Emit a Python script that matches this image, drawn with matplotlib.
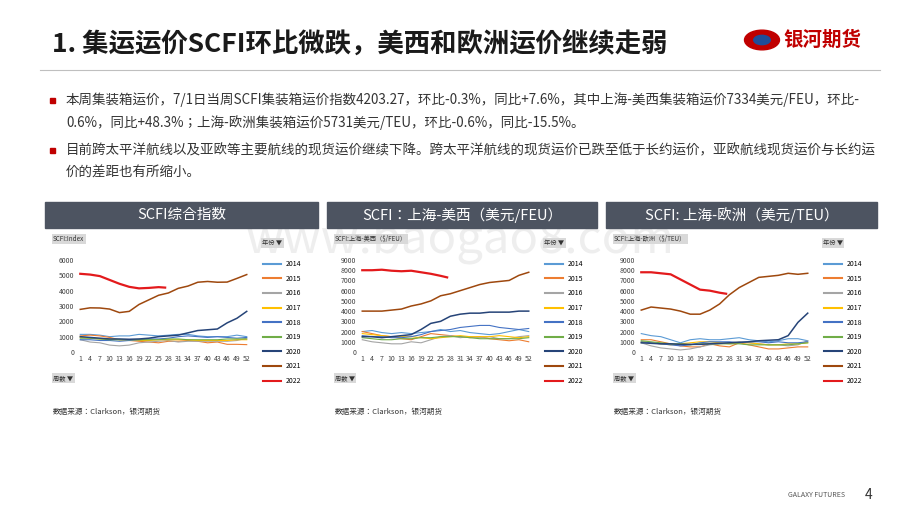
import matplotlib.pyplot as plt
from matplotlib import font_manager
from matplotlib.patches import Rectangle, Circle
from matplotlib.lines import Line2D

cjk = sorted({f.name for f in font_manager.fontManager.ttflist if 'Sans CJK' in f.name})
pref = [n for n in cjk if n.endswith('SC')] or cjk
plt.rcParams['font.family'] = [pref[0] if pref else 'Noto Sans CJK SC']

# 数据（按周采样）
weeks = [1, 4, 7, 10, 13, 16, 19, 22, 25, 28, 31, 34, 37, 40, 43, 46, 49, 52]
weeks_2022 = [1, 4, 7, 10, 13, 16, 19, 22, 25, 27]
years = ['2014', '2015', '2016', '2017', '2018', '2019', '2020', '2021', '2022']
colors = ['#5B9BD5', '#ED7D31', '#A5A5A5', '#FFC000', '#4472C4', '#70AD47', '#264478', '#9E480E', '#E31A1C']

scfi_index = {
    '2014': [1150, 1150, 1100, 1000, 1050, 1050, 1150, 1100, 1050, 1100, 1150, 1150, 1050, 1000, 1000, 1000, 1100, 1000],
    '2015': [1050, 1100, 1050, 950, 800, 750, 700, 650, 600, 700, 700, 750, 700, 600, 650, 500, 500, 480],
    '2016': [800, 650, 600, 450, 400, 450, 600, 650, 700, 750, 650, 700, 700, 700, 700, 700, 750, 900],
    '2017': [950, 900, 850, 850, 800, 800, 750, 750, 800, 800, 800, 800, 750, 750, 750, 750, 800, 800],
    '2018': [800, 800, 750, 750, 700, 750, 800, 850, 850, 900, 1000, 1050, 1000, 950, 1000, 950, 900, 950],
    '2019': [900, 900, 850, 800, 800, 800, 800, 800, 800, 850, 850, 800, 800, 800, 800, 850, 850, 850],
    '2020': [1000, 950, 900, 850, 850, 830, 850, 900, 1000, 1050, 1100, 1250, 1400, 1450, 1500, 1900, 2200, 2650],
    '2021': [2780, 2880, 2870, 2800, 2570, 2650, 3100, 3400, 3700, 3850, 4150, 4300, 4550, 4600, 4550, 4560, 4800, 5050],
    '2022': [5100, 5050, 4950, 4700, 4450, 4250, 4150, 4180, 4230, 4200],
}
scfi_usw = {
    '2014': [2000, 2100, 1900, 1800, 1900, 1800, 1900, 2000, 2200, 2000, 2100, 1900, 1800, 1700, 1800, 2000, 2200, 2000],
    '2015': [2000, 1800, 1600, 1500, 1300, 1200, 1500, 1800, 1700, 1600, 1500, 1400, 1500, 1300, 1200, 1100, 1200, 1000],
    '2016': [1200, 1000, 900, 800, 800, 1000, 900, 1200, 1500, 1600, 1400, 1500, 1400, 1500, 1300, 1300, 1500, 1600],
    '2017': [1800, 1700, 1600, 1500, 1500, 1500, 1400, 1300, 1400, 1500, 1600, 1500, 1500, 1500, 1600, 1500, 1400, 1500],
    '2018': [1600, 1500, 1500, 1400, 1400, 1500, 1700, 2000, 2100, 2200, 2400, 2500, 2600, 2600, 2400, 2300, 2200, 2300],
    '2019': [1400, 1300, 1200, 1200, 1300, 1300, 1400, 1400, 1500, 1500, 1500, 1400, 1300, 1300, 1300, 1300, 1300, 1400],
    '2020': [1500, 1500, 1400, 1500, 1600, 1700, 2200, 2800, 3000, 3500, 3700, 3800, 3800, 3900, 3900, 3900, 4000, 4000],
    '2021': [4000, 4000, 4000, 4100, 4200, 4500, 4700, 5000, 5500, 5700, 6000, 6300, 6600, 6800, 6900, 7000, 7500, 7800],
    '2022': [8000, 8000, 8050, 7950, 7900, 7950, 7800, 7650, 7450, 7300],
}
scfi_eu = {
    '2014': [1800, 1600, 1500, 1200, 900, 1200, 1300, 1200, 1200, 1300, 1400, 1200, 1100, 1000, 1100, 1300, 1300, 1100],
    '2015': [1200, 1200, 1000, 800, 600, 500, 500, 800, 600, 500, 900, 700, 500, 300, 300, 400, 500, 500],
    '2016': [900, 600, 400, 300, 200, 300, 500, 700, 800, 900, 1000, 900, 800, 700, 700, 600, 700, 1100],
    '2017': [1000, 900, 800, 700, 800, 900, 1000, 1000, 900, 800, 900, 900, 800, 700, 700, 800, 800, 900],
    '2018': [1000, 900, 800, 700, 600, 700, 900, 1000, 1000, 1000, 900, 1000, 1000, 900, 1000, 900, 900, 1000],
    '2019': [1100, 1000, 900, 800, 800, 700, 800, 800, 800, 800, 800, 700, 700, 700, 700, 700, 800, 900],
    '2020': [900, 850, 800, 800, 750, 750, 750, 800, 850, 900, 950, 1000, 1100, 1150, 1200, 1600, 2900, 3800],
    '2021': [4100, 4400, 4300, 4200, 4000, 3700, 3700, 4100, 4700, 5600, 6300, 6800, 7300, 7400, 7500, 7700, 7600, 7700],
    '2022': [7800, 7800, 7700, 7600, 7100, 6600, 6100, 6000, 5800, 5700],
}

fig = plt.figure(figsize=(9.2, 5.18), dpi=100)
W, H = 920, 518

def fx(x): return x / W
def fy(y): return 1 - y / H

# 标题
fig.text(fx(52), fy(44), '1. 集运运价SCFI环比微跌，美西和欧洲运价继续走弱', fontsize=19,
         fontweight='bold', va='center', color='#1a1a1a')
fig.add_artist(Line2D([fx(40), fx(880)], [fy(70), fy(70)], color='#bfbfbf', lw=0.8))
# 标志
fig.add_artist(Circle((fx(762), fy(40)), 0.019, transform=fig.transFigure, color='#C00000'))
fig.add_artist(Circle((fx(762), fy(40)), 0.009, transform=fig.transFigure, color='#1F4E9A'))
fig.text(fx(783), fy(40), '银河期货', fontsize=14, fontweight='bold', color='#C00000', va='center')

# 正文
bullets = [
    (100, '本周集装箱运价，7/1日当周SCFI集装箱运价指数4203.27，环比-0.3%，同比+7.6%，其中上海-美西集装箱运价7334美元/FEU，环比-'),
    (123, '0.6%，同比+48.3%；上海-欧洲集装箱运价5731美元/TEU，环比-0.6%，同比-15.5%。'),
    (150, '目前跨太平洋航线以及亚欧等主要航线的现货运价继续下降。跨太平洋航线的现货运价已跌至低于长约运价，亚欧航线现货运价与长约运'),
    (173, '价的差距也有所缩小。'),
]
for i, (y, t) in enumerate(bullets):
    if i in (0, 2):
        fig.add_artist(Rectangle((fx(50), fy(y + 3)), fx(5), 5 / H, color='#C00000', transform=fig.transFigure))
    fig.text(fx(66), fy(y), t, fontsize=9.7, va='center', color='#333333')

fig.text(0.5, fy(240), 'www.baogao8.com', fontsize=34, color='#eeeeee', ha='center', va='center', zorder=0)

panels = [
    (45, 318, 'SCFI综合指数', 'SCFI:Index', scfi_index, 6000, 1000),
    (327, 597, 'SCFI：上海-美西（美元/FEU）', 'SCFI:上海-美西（$/FEU）', scfi_usw, 9000, 1000),
    (606, 877, 'SCFI: 上海-欧洲（美元/TEU）', 'SCFI:上海-欧洲（$/TEU）', scfi_eu, 9000, 1000),
]
for x0, x1, head, tag, data, ymax, step in panels:
    fig.add_artist(Rectangle((fx(x0), fy(228)), fx(x1 - x0), 26 / H, color='#4D5461', transform=fig.transFigure))
    fig.text(fx((x0 + x1) / 2), fy(215), head, fontsize=10.5, color='white', ha='center', va='center')
    ax = fig.add_axes([fx(x0 + 32), fy(352), fx(173), 92 / H])
    for yr, c in zip(years, colors):
        xs = weeks_2022 if yr == '2022' else weeks
        lw = 1.6 if yr == '2022' else (1.1 if yr in ('2020', '2021') else 0.8)
        ax.plot(xs, data[yr], color=c, lw=lw, label=yr)
    ax.set_xlim(0, 53)
    ax.set_ylim(0, ymax)
    ax.set_yticks(range(0, ymax + 1, step))
    ax.set_xticks(range(1, 53, 3))
    ax.tick_params(labelsize=5, length=0, pad=2, colors='#404040')
    for s in ax.spines.values():
        s.set_visible(False)
    ax.patch.set_alpha(0)
    fig.text(fx(x0 + 8), fy(243), tag, fontsize=4.5, color='#333333', va='bottom',
             bbox=dict(facecolor='#d9d9d9', edgecolor='none', pad=1))
    fig.text(fx(x0 + 8), fy(380), '周数 ▼', fontsize=4.5, color='#333333',
             bbox=dict(facecolor='#d9d9d9', edgecolor='none', pad=1))
    fig.text(fx(x0 + 217), fy(247), '年份 ▼', fontsize=4.5, color='#333333', va='bottom',
             bbox=dict(facecolor='#d9d9d9', edgecolor='none', pad=1))
    leg = ax.legend(loc='upper left', frameon=False, fontsize=5, handlelength=2.5, labelspacing=0.95)
    leg.set_bbox_to_anchor((fx(x0 + 212), fy(254)), transform=fig.transFigure)
    for h in leg.get_lines():
        h.set_linewidth(1.5)
    fig.text(fx(x0 + 8), fy(412), '数据来源：Clarkson，银河期货', fontsize=5.5, color='#333333', va='center')

fig.text(fx(845), fy(495), 'GALAXY FUTURES', fontsize=5, color='#555555', ha='right', va='center')
fig.text(fx(872), fy(495), '4', fontsize=10, color='#333333', ha='right', va='center')

fig.savefig('out.png', dpi=100)
